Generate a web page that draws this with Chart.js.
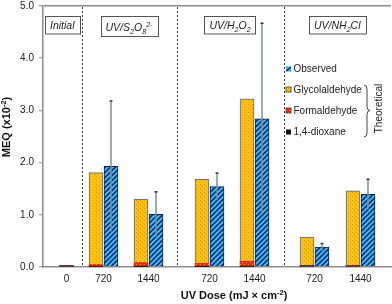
<!DOCTYPE html>
<html>
<head>
<meta charset="utf-8">
<script src="https://cdn.jsdelivr.net/npm/chart.js@4.4.0/dist/chart.umd.min.js"></script>
<style>
    html, body { margin: 0; padding: 0; background: #fff; }
    #wrap { width: 392px; height: 304px; position: relative; }
</style>
</head>
<body>
<div id="wrap"><canvas id="grafico"></canvas></div>
<script>
// valores (MEQ x10^-2)
var tratamentos = ['Initial', 'UV/S_{2}O_{8}^{2-}', 'UV/H_{2}O_{2}', 'UV/NH_{2}Cl'];
var doses = ['0', '720', '1440', '720', '1440', '720', '1440'];
var grupoDose = [0, 1, 1, 2, 2, 3, 3];
var dioxano = [0.025, 0.01, 0.01, 0.01, 0.01, 0.025, 0.02];
var formaldeido = [0, 0.04, 0.08, 0.06, 0.10, 0, 0.01];
var glicolaldeido = [0, 1.76, 1.21, 1.61, 3.11, 0.545, 1.43];
var observado = [null, 1.93, 1.01, 1.54, 2.84, 0.38, 1.39];
var erroObservado = [null, 1.25, 0.43, 0.26, 1.83, 0.07, 0.29];
var nomesSeries = ['1,4-dioxane', 'Formaldehyde', 'Glycolaldehyde', 'Observed'];
var tituloX = 'UV Dose (mJ \u00d7 cm^{-2})';
var tituloY = 'MEQ (x10^{-2})';

// layout do eixo x (unidades = px a partir do eixo y)
var FONTE = "'Liberation Sans', Arial, sans-serif";
var larguraEixo = 348;
var posicaoDose = [23.5, 60.5, 105.5, 166.5, 211.5, 271.5, 317.5];
var separadores = [38.5, 133.5, 240.5];
var deslocBarra = 7.5;

var ctxBase = document.getElementById('grafico').getContext('2d');

function criarPadrao(fundo, cor, tipo) {
    var c = document.createElement('canvas');
    var s = tipo == 'listras' ? 5 : 4;
    c.width = s;
    c.height = s;
    var g = c.getContext('2d');
    g.fillStyle = fundo;
    g.fillRect(0, 0, s, s);
    if (tipo == 'pontos') {
        g.fillStyle = cor;
        g.fillRect(0, 0, 1, 1);
        g.fillRect(2, 2, 1, 1);
    } else {
        g.strokeStyle = cor;
        g.lineWidth = 1.7;
        g.beginPath();
        g.moveTo(-1, s + 1); g.lineTo(s + 1, -1);
        g.moveTo(-1, 1); g.lineTo(1, -1);
        g.moveTo(s - 1, s + 1); g.lineTo(s + 1, s - 1);
        g.stroke();
    }
    return ctxBase.createPattern(c, 'repeat');
}

var padraoAmarelo = criarPadrao('#ffc20e', '#e09a00', 'pontos');
var padraoVermelho = criarPadrao('#e8281c', '#ff9a00', 'pontos');
var padraoAzul = criarPadrao('#1b2f86', '#3ccaf0', 'listras');

function pontosTeoricos(valores) {
    var pts = [];
    for (var i = 0; i < valores.length; i++) {
        var x = grupoDose[i] == 0 ? posicaoDose[i] : posicaoDose[i] - deslocBarra;
        pts.push({ x: x, y: valores[i] });
    }
    return pts;
}

function pontosObservados() {
    var pts = [];
    for (var i = 0; i < observado.length; i++) {
        if (observado[i] != null) {
            pts.push({ x: posicaoDose[i] + deslocBarra, y: observado[i], i: i });
        }
    }
    return pts;
}

function partesTexto(txt) {
    var partes = [];
    var re = /(_|\^)\{([^}]*)\}/g;
    var ult = 0;
    var m;
    while ((m = re.exec(txt))) {
        if (m.index > ult) partes.push({ t: txt.slice(ult, m.index), tipo: 'n' });
        partes.push({ t: m[2], tipo: m[1] == '_' ? 'sub' : 'sup' });
        ult = re.lastIndex;
    }
    if (ult < txt.length) partes.push({ t: txt.slice(ult), tipo: 'n' });
    return partes;
}

function medirRico(ctx, txt, tam, estilo) {
    var partes = partesTexto(txt);
    var larg = 0;
    for (var i = 0; i < partes.length; i++) {
        var t = partes[i].tipo == 'n' ? tam : tam * 0.68;
        ctx.font = estilo + ' ' + t + 'px ' + FONTE;
        partes[i].w = ctx.measureText(partes[i].t).width;
        partes[i].f = ctx.font;
        larg += partes[i].w;
    }
    return { partes: partes, larg: larg };
}

function desenharRico(ctx, txt, x, y, tam, estilo, cor) {
    var r = medirRico(ctx, txt, tam, estilo);
    var x0 = x - r.larg / 2;
    ctx.fillStyle = cor;
    ctx.textAlign = 'left';
    ctx.textBaseline = 'alphabetic';
    for (var i = 0; i < r.partes.length; i++) {
        var p = r.partes[i];
        var dy = p.tipo == 'sub' ? tam * 0.28 : (p.tipo == 'sup' ? -tam * 0.38 : 0);
        ctx.font = p.f;
        ctx.fillText(p.t, x0, y + dy);
        x0 += p.w;
    }
    return r.larg;
}

var pluginSeparadores = {
    id: 'separadores',
    beforeDatasetsDraw: function(chart) {
        var ctx = chart.ctx;
        var area = chart.chartArea;
        ctx.save();
        ctx.strokeStyle = '#333';
        ctx.lineWidth = 1;
        ctx.setLineDash([2, 2]);
        for (var i = 0; i < separadores.length; i++) {
            var x = Math.round(chart.scales.x.getPixelForValue(separadores[i])) + 0.5;
            ctx.beginPath();
            ctx.moveTo(x, area.top + 1);
            ctx.lineTo(x, area.bottom);
            ctx.stroke();
        }
        ctx.restore();
    }
};

var pluginErros = {
    id: 'erros',
    afterDatasetsDraw: function(chart) {
        var ctx = chart.ctx;
        var sy = chart.scales.y;
        var meta = chart.getDatasetMeta(3);
        var pts = chart.data.datasets[3].data;
        ctx.save();
        for (var k = 0; k < meta.data.length; k++) {
            var i = pts[k].i;
            var x = meta.data[k].x;
            var yTopo = sy.getPixelForValue(observado[i] + erroObservado[i]);
            var yBase = sy.getPixelForValue(observado[i] - erroObservado[i]);
            ctx.strokeStyle = '#7d9090';
            ctx.lineWidth = 1.5;
            ctx.beginPath();
            ctx.moveTo(x, yBase);
            ctx.lineTo(x, yTopo);
            ctx.stroke();
            ctx.strokeStyle = '#333';
            ctx.beginPath();
            ctx.moveTo(x - 1.5, yTopo);
            ctx.lineTo(x + 1.5, yTopo);
            ctx.stroke();
        }
        ctx.restore();
    }
};

var pluginAnotacoes = {
    id: 'anotacoes',
    afterDraw: function(chart) {
        var ctx = chart.ctx;
        var sx = chart.scales.x;
        ctx.save();

        // caixas dos tratamentos
        var limites = [0].concat(separadores).concat([larguraEixo]);
        for (var g = 0; g < tratamentos.length; g++) {
            var cx = (sx.getPixelForValue(limites[g]) + sx.getPixelForValue(limites[g + 1])) / 2;
            var r = medirRico(ctx, tratamentos[g], 10.5, 'italic');
            var temSup = tratamentos[g].indexOf('^') >= 0;
            var topo = 16;
            var alt = temSup ? 20 : 17.5;
            var larg = r.larg + 10;
            ctx.fillStyle = '#fff';
            ctx.fillRect(cx - larg / 2, topo, larg, alt);
            ctx.strokeStyle = '#555';
            ctx.lineWidth = 1;
            ctx.strokeRect(Math.round(cx - larg / 2) + 0.5, topo + 0.5, Math.round(larg), alt);
            desenharRico(ctx, tratamentos[g], cx, topo + (temSup ? 14.8 : 13), 10.5, 'italic', '#222');
        }

        // legenda
        var ordem = [3, 2, 1, 0];
        var fundos = [padraoAzul, padraoAmarelo, padraoVermelho, '#111'];
        var yLeg = [69, 89.5, 110.5, 132];
        for (var k = 0; k < ordem.length; k++) {
            ctx.fillStyle = fundos[k];
            ctx.fillRect(286, yLeg[k] - 2.5, 5, 5);
            if (k == 1 || k == 2) {
                ctx.strokeStyle = '#553300';
                ctx.lineWidth = 0.8;
                ctx.strokeRect(286, yLeg[k] - 2.5, 5, 5);
            }
            ctx.fillStyle = '#222';
            ctx.font = '10px ' + FONTE;
            ctx.textAlign = 'left';
            ctx.textBaseline = 'middle';
            ctx.fillText(nomesSeries[ordem[k]], 293.5, yLeg[k] + 0.5);
        }

        // chave "Theoretical"
        var bx = 364, b1 = 85, b2 = 137, bm = 110.5, w = 6;
        ctx.strokeStyle = '#444';
        ctx.lineWidth = 1;
        ctx.beginPath();
        ctx.moveTo(bx, b1);
        ctx.quadraticCurveTo(bx + w / 2, b1, bx + w / 2, b1 + 4);
        ctx.lineTo(bx + w / 2, bm - 4);
        ctx.quadraticCurveTo(bx + w / 2, bm, bx + w, bm);
        ctx.quadraticCurveTo(bx + w / 2, bm, bx + w / 2, bm + 4);
        ctx.lineTo(bx + w / 2, b2 - 4);
        ctx.quadraticCurveTo(bx + w / 2, b2, bx, b2);
        ctx.stroke();
        ctx.save();
        ctx.translate(379, 108.5);
        ctx.rotate(-Math.PI / 2);
        ctx.fillStyle = '#222';
        ctx.font = '10px ' + FONTE;
        ctx.textAlign = 'center';
        ctx.textBaseline = 'middle';
        ctx.fillText('Theoretical', 0, 0);
        ctx.restore();

        // títulos dos eixos
        desenharRico(ctx, tituloX, 234, 299, 11, 'bold', '#111');
        ctx.save();
        ctx.translate(10, 127);
        ctx.rotate(-Math.PI / 2);
        desenharRico(ctx, tituloY, 0, 0, 11, 'bold', '#111');
        ctx.restore();

        ctx.restore();
    }
};

new Chart(ctxBase, {
    type: 'bar',
    data: {
        datasets: [
            {
                label: nomesSeries[0],
                data: pontosTeoricos(dioxano),
                backgroundColor: '#111',
                borderWidth: 0,
                stack: 'teorico',
                barThickness: 14
            },
            {
                label: nomesSeries[1],
                data: pontosTeoricos(formaldeido),
                backgroundColor: padraoVermelho,
                borderWidth: 0,
                stack: 'teorico',
                barThickness: 14
            },
            {
                label: nomesSeries[2],
                data: pontosTeoricos(glicolaldeido),
                backgroundColor: padraoAmarelo,
                borderColor: '#7a7a7a',
                borderWidth: 1.2,
                stack: 'teorico',
                barThickness: 14
            },
            {
                label: nomesSeries[3],
                data: pontosObservados(),
                backgroundColor: padraoAzul,
                borderColor: '#0f1d55',
                borderWidth: 1,
                stack: 'observado',
                barThickness: 14
            }
        ]
    },
    options: {
        responsive: true,
        maintainAspectRatio: false,
        animation: false,
        grouped: false,
        layout: { padding: { top: 6, right: 1, left: 0, bottom: 0 } },
        plugins: {
            legend: { display: false },
            tooltip: { enabled: false }
        },
        scales: {
            x: {
                type: 'linear',
                offset: false,
                min: 0,
                max: larguraEixo,
                afterFit: function(s) { s.height = 37; },
                afterBuildTicks: function(s) {
                    s.ticks = posicaoDose.map(function(v) { return { value: v }; });
                },
                ticks: {
                    autoSkip: false,
                    maxRotation: 0,
                    padding: 6,
                    color: '#222',
                    font: { size: 10, family: FONTE },
                    callback: function(v, i) { return doses[i]; }
                },
                grid: { display: false, drawTicks: false, tickLength: 0 },
                border: { display: true, color: '#8c8c8c', width: 1.5 }
            },
            y: {
                stacked: true,
                min: 0,
                max: 5,
                afterFit: function(s) { s.width = 43; s.paddingTop = 0; },
                ticks: {
                    stepSize: 1,
                    padding: 5,
                    color: '#222',
                    font: { size: 10, family: FONTE, lineHeight: 0.6 },
                    callback: function(v) { return v.toFixed(1); }
                },
                grid: {
                    color: function(c) { return c.tick && c.tick.value === 5 ? '#8c8c8c' : 'rgba(0,0,0,0)'; },
                    lineWidth: 1.5,
                    tickLength: 4,
                    tickColor: '#8c8c8c',
                    tickWidth: 1
                },
                border: { color: '#8c8c8c', width: 1.5 }
            }
        }
    },
    plugins: [pluginSeparadores, pluginErros, pluginAnotacoes]
});
</script>
</body>
</html>
